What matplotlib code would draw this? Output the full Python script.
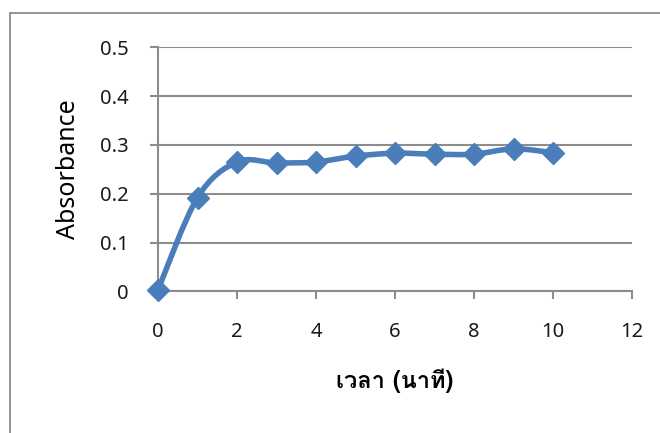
import numpy as np
import matplotlib
matplotlib.use("Agg")
import matplotlib.pyplot as plt
import matplotlib.font_manager as fm
from matplotlib.ft2font import FT2Font
from matplotlib.path import Path
from matplotlib.patches import PathPatch, Rectangle

# absorbance readings against time (minutes)
time_min = [0, 1, 2, 3, 4, 5, 6, 7, 8, 9, 10]
absorbance = [0.003, 0.192, 0.265, 0.263, 0.265, 0.277, 0.283, 0.281, 0.281, 0.292, 0.284]

x_ticks = [0, 2, 4, 6, 8, 10, 12]
y_ticks = [0, 0.1, 0.2, 0.3, 0.4, 0.5]
y_labels = ["0", "0.1", "0.2", "0.3", "0.4", "0.5"]

x_title = "เวลา (นาที)"
y_title = "Absorbance"

line_color = "#4A7EBB"
grid_color = "#8C8C8C"


def find_thai_family():
    # first installed face that carries Thai glyphs
    for f in fm.fontManager.ttflist:
        try:
            cmap = FT2Font(f.fname).get_charmap()
        except Exception:
            continue
        if 0x0E40 in cmap and 0x0E27 in cmap and 0x0E35 in cmap:
            return f.name
    return None


thai = find_thai_family()
base_family = ["Noto Sans", "DejaVu Sans"]
thai_family = ([thai] if thai else []) + base_family

plt.rcParams["font.family"] = base_family


def smooth_path(xs, ys):
    # cardinal-spline style bezier through the points
    xs = np.asarray(xs, float)
    ys = np.asarray(ys, float)
    n = len(xs)
    verts = [(xs[0], ys[0])]
    codes = [Path.MOVETO]
    for i in range(n - 1):
        i0 = max(i - 1, 0)
        i3 = min(i + 2, n - 1)
        c1 = (xs[i] + (xs[i + 1] - xs[i0]) / 6.0, ys[i] + (ys[i + 1] - ys[i0]) / 6.0)
        c2 = (xs[i + 1] - (xs[i3] - xs[i]) / 6.0, ys[i + 1] - (ys[i3] - ys[i]) / 6.0)
        verts += [c1, c2, (xs[i + 1], ys[i + 1])]
        codes += [Path.CURVE4] * 3
    return Path(verts, codes)


fig = plt.figure(figsize=(6.6, 4.33), dpi=100)
ax = fig.add_axes([0.2394, 0.3272, 0.7182, 0.5636])

# outer chart frame running off the right and bottom edges
fig.patches.append(Rectangle((10 / 660, -0.1), 1.2, 1.1 - 13 / 433,
                             transform=fig.transFigure, fill=False,
                             edgecolor="#8C8C8C", linewidth=1.3))

ax.set_xlim(0, 12)
ax.set_ylim(0, 0.5)
ax.set_xticks(x_ticks)
ax.set_yticks(y_ticks)
ax.set_yticklabels(y_labels)

ax.yaxis.grid(True, color=grid_color, linewidth=1.5)
ax.set_axisbelow(True)

for s in ["top", "right"]:
    ax.spines[s].set_visible(False)
for s in ["left", "bottom"]:
    ax.spines[s].set_color(grid_color)
    ax.spines[s].set_linewidth(1.5)

ax.tick_params(axis="y", direction="out", length=6, width=1.5, color=grid_color,
               pad=15, labelsize=14.5, labelcolor="#1A1A1A")
ax.tick_params(axis="x", direction="out", length=6, width=1.5, color=grid_color,
               pad=16, labelsize=14.5, labelcolor="#1A1A1A")

ax.add_patch(PathPatch(smooth_path(time_min, absorbance), facecolor="none",
                       edgecolor=line_color, linewidth=4, zorder=3,
                       capstyle="round", joinstyle="round"))
ax.plot(time_min, absorbance, linestyle="none", marker="D", markersize=11.5,
        color=line_color, zorder=4, clip_on=False)

ax.set_ylabel(y_title, fontsize=18, labelpad=14)
ax.set_xlabel(x_title, fontsize=17, fontweight="bold", family=thai_family, labelpad=19)

fig.savefig("out.png", dpi=100, facecolor="white")
